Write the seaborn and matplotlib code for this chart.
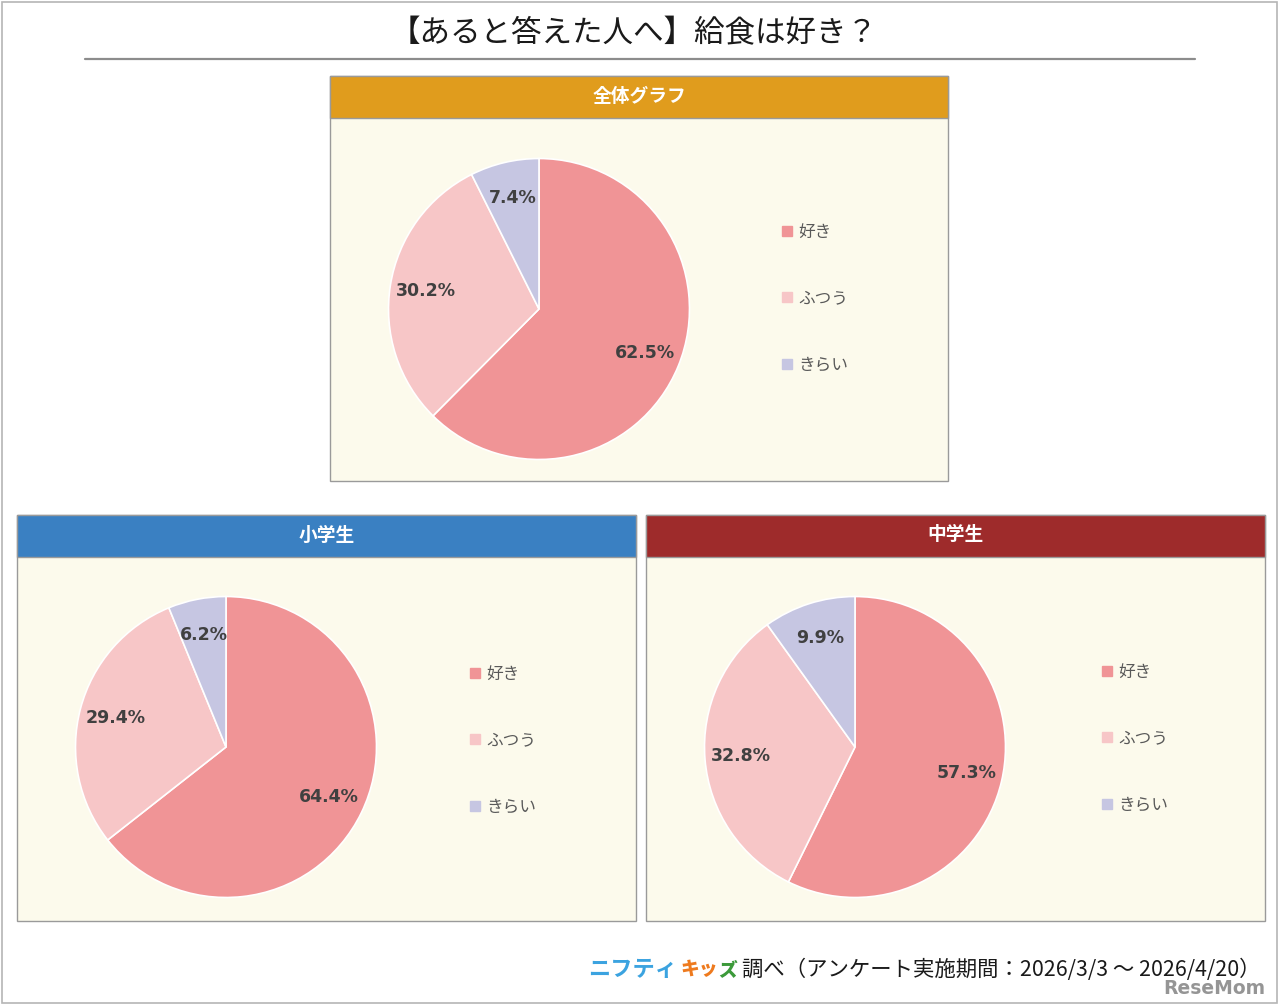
import matplotlib
matplotlib.use("Agg")
import matplotlib.pyplot as plt
import seaborn as sns
from matplotlib.patches import Rectangle
from matplotlib.lines import Line2D

# data
categories = ["好き", "ふつう", "きらい"]
overall_values = [62.5, 30.2, 7.4]
elementary_values = [64.4, 29.4, 6.2]
junior_values = [57.3, 32.8, 9.9]
panel_titles = ["全体グラフ", "小学生", "中学生"]

title = "【あると答えた人へ】給食は好き？"
source_logo_1 = "ニフティ"
source_logo_2 = "キッ"
source_logo_3 = "ズ"
source_text = "調べ（アンケート実施期間：2026/3/3 ～ 2026/4/20）"

slice_colors = ["#F09496", "#F7C6C7", "#C6C6E2"]
header_colors = ["#E09C1D", "#3A80C2", "#9E2B2B"]
panel_bg = "#FCFAEC"

sns.set_theme(style="white")
plt.rcParams["font.family"] = ["Noto Sans CJK JP", "DejaVu Sans"]

W, H = 1280, 1006
fig = plt.figure(figsize=(W / 100, H / 100), dpi=100)
fig.patch.set_facecolor("white")


def fx(x):
    return x / W


def fy(y):
    return 1 - y / H


def rect(x0, y0, x1, y1, **kw):
    fig.patches.append(Rectangle((fx(x0), fy(y1)), fx(x1) - fx(x0), fy(y0) - fy(y1),
                                 transform=fig.transFigure, **kw))


# outer frame
rect(2, 2, 1277, 1003, facecolor="none", edgecolor="#b5b5b5", linewidth=1.2)

# title and rule
fig.text(fx(634), fy(34), title, ha="center", va="center", fontsize=22, color="#1a1a1a")
fig.add_artist(Line2D([fx(85), fx(1195)], [fy(59), fy(59)], transform=fig.transFigure,
                      color="#8c8c8c", linewidth=1.6))


def draw_panel(box, header_color, header_text, values, pie_center, legend_pos):
    x0, y0, x1, y1 = box
    rect(x0, y0, x1, y1, facecolor=panel_bg, edgecolor="#9a9a9a", linewidth=1.0)
    rect(x0, y0, x1, y0 + 42, facecolor=header_color, edgecolor="#9a9a9a", linewidth=1.0)
    fig.text(fx((x0 + x1) / 2), fy(y0 + 20), header_text, ha="center", va="center",
             fontsize=13.5, fontweight="bold", color="white")

    r = 152
    cx, cy = pie_center
    ax = fig.add_axes([fx(cx - r), fy(cy + r), 2 * r / W, 2 * r / H])
    ax.set_zorder(3)
    ax.patch.set_alpha(0)
    it = iter(values)
    ax.pie(
        values, colors=slice_colors, startangle=90, counterclock=False,
        autopct=lambda p: f"{next(it)}%", pctdistance=0.76,
        wedgeprops=dict(edgecolor="white", linewidth=1.2),
        textprops=dict(fontsize=12.5, fontweight="bold", color="#404040",
                       family=["DejaVu Sans"]))
    ax.set_xlim(-1.01, 1.01)
    ax.set_ylim(-1.01, 1.01)
    ax.set_aspect("equal")
    ax.axis("off")

    handles = [Line2D([], [], marker="s", linestyle="", color=c, markersize=7)
               for c in slice_colors]
    lx, ly = legend_pos
    fig.legend(handles, categories, loc="upper left",
               bbox_to_anchor=(fx(lx), fy(ly)), bbox_transform=fig.transFigure,
               frameon=False, fontsize=12, labelcolor="#595959",
               handlelength=0.7, handletextpad=0.35, labelspacing=2.95,
               borderpad=0, borderaxespad=0)


draw_panel((330, 76, 948, 481), header_colors[0], panel_titles[0], overall_values,
           (539, 309), (781, 224))
draw_panel((17, 515, 636, 921), header_colors[1], panel_titles[1], elementary_values,
           (226, 747), (469, 666))
draw_panel((646, 515, 1265, 921), header_colors[2], panel_titles[2], junior_values,
           (855, 747), (1101, 664))

# source line
fig.text(fx(588), fy(970), source_logo_1, ha="left", va="center", fontsize=16,
         fontweight="bold", color="#3BA3E0")
fig.text(fx(680), fy(970), source_logo_2, ha="left", va="center", fontsize=13.5,
         fontweight="black", color="#EE7A1E")
fig.text(fx(718), fy(970), source_logo_3, ha="left", va="center", fontsize=13.5,
         fontweight="black", color="#3C9A3A")
fig.text(fx(742), fy(970), source_text, ha="left", va="center", fontsize=15.4,
         color="#1a1a1a")

# watermark
fig.text(fx(1265), fy(989), "ReseMom", ha="right", va="center", fontsize=13.5,
         fontweight="bold", color="#8a8a8a", alpha=0.9, family=["DejaVu Sans"])

fig.savefig("out.png", dpi=100, facecolor="white")
